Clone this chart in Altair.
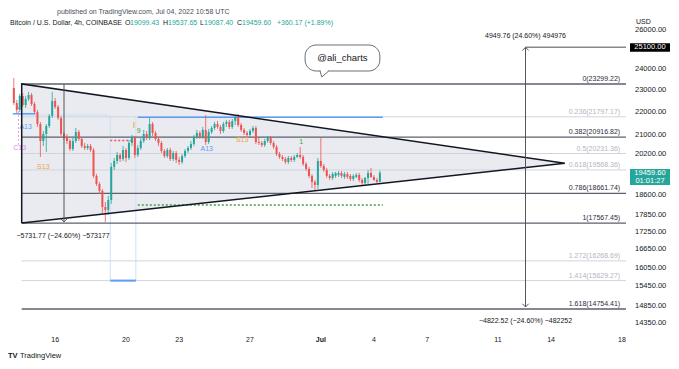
import altair as alt
import pandas as pd

FONT = "Liberation Sans"
GREEN = "#26a69a"
RED = "#ef5350"
DARK = "#131722"
BLUE = "#5b9cf6"
ORANGE = "#f2a33a"

# ---------------- candle data (BTC/USD 4h, Coinbase) ----------------
opens = [23112, 22418, 22102, 22739, 22327, 22602, 22785, 22372, 22012, 21481,
         20754, 21050, 21395, 21834, 22510, 22237, 21746, 21050, 20923, 20754,
         20420, 20754, 21137, 20839, 20544, 20461, 20544, 20378, 19330, 19018,
         18751, 18151, 18041, 18411, 19687, 19928, 20172, 20009, 20378, 20050,
         20669, 20881, 20172, 20461, 20754, 21050, 20881, 21481, 21094, 20839,
         20669, 20337, 20131, 20378, 20009, 20254, 19969, 19887, 20131, 20337,
         20461, 20627, 20923, 21094, 20923, 21223, 20712, 21137, 21309, 21481,
         21352, 21180, 21481, 21570, 21352, 21614, 21790, 21438, 21223, 21094,
         21008, 21180, 21309, 20712, 20669, 20586, 20754, 20881, 20669, 20503,
         20212, 20090, 20009, 19887, 20050, 19969, 20090, 20172, 20090, 19806,
         19607, 19330, 19096, 18980, 19928, 19726, 19567, 19330, 19252, 19330,
         19369, 19448, 19291, 19408, 19330, 19213, 19291, 19369, 19174, 19057,
         19252, 19448, 19291, 19174, 19099.43]
closes = [22418, 22102, 22739, 22327, 22602, 22785, 22372, 22012, 21481, 20754,
          21050, 21395, 21834, 22510, 22237, 21746, 21050, 20923, 20754, 20420,
          20754, 21137, 20839, 20544, 20461, 20544, 20378, 19330, 19018, 18751,
          18151, 18041, 18411, 19687, 19928, 20172, 20009, 20378, 20050, 20669,
          20923, 20172, 20461, 20754, 21050, 20881, 21481, 21094, 20839, 20669,
          20337, 20131, 20378, 20009, 20254, 19969, 19887, 20131, 20337, 20461,
          20627, 20923, 21094, 20923, 21223, 20712, 21137, 21309, 21481, 21352,
          21180, 21481, 21570, 21352, 21614, 21790, 21438, 21223, 21094, 21008,
          21180, 21309, 20712, 20669, 20586, 20754, 20881, 20669, 20503, 20212,
          20090, 20009, 19887, 20050, 19969, 20090, 20172, 20090, 19806, 19607,
          19330, 19096, 18980, 19928, 19726, 19567, 19330, 19252, 19408, 19448,
          19448, 19330, 19408, 19291, 19213, 19330, 19369, 19174, 19057, 19252,
          19448, 19291, 19174, 19096, 19459.60]
highs = [23585, 22556, 22831, 22878, 22739, 22925, 22878, 22464, 22102, 21570,
         21180, 21481, 21922, 22925, 22648, 22327, 21834, 21137, 21050, 20839,
         20923, 21309, 21223, 20923, 20669, 20627, 20627, 20461, 19408, 19096,
         18827, 18336, 18561, 19847, 20050, 20295, 20254, 20544, 20461, 20796,
         21008, 20966, 20586, 20881, 21223, 21180, 21746, 21570, 21180, 20923,
         20754, 20420, 20461, 20461, 20337, 20337, 20090, 20212, 20420, 20544,
         20754, 21008, 21223, 21180, 21352, 21878, 21266, 21395, 21570, 21614,
         21438, 21570, 21658, 21658, 21702, 21878, 21922, 21525, 21309, 21180,
         21266, 21395, 21395, 20881, 20754, 20839, 20966, 20966, 20754, 20586,
         20295, 20172, 20090, 20131, 20131, 20172, 20254, 20503, 20172, 19887,
         19687, 19408, 19174, 20050, 20881, 19806, 19647, 19408, 19488, 19488,
         19527, 19527, 19488, 19488, 19408, 19408, 19448, 19448, 19252, 19291,
         19567, 19647, 19369, 19252, 19537.65]
lows = [22327, 21967, 22012, 22237, 22192, 22510, 22282, 21922, 21352, 20090,
        20544, 20295, 21309, 21746, 22147, 21658, 20966, 20796, 20627, 20337,
        20337, 20669, 20754, 20461, 20378, 20378, 20295, 19252, 18942, 18636,
        17931, 17607, 17858, 18261, 19567, 19806, 19887, 19928, 19887, 19969,
        20544, 20050, 20090, 20378, 20669, 20796, 20796, 20966, 20754, 20544,
        20254, 20050, 20050, 19928, 19928, 19847, 19766, 19806, 20050, 20254,
        20378, 20544, 20839, 20839, 20839, 20586, 20627, 21050, 21223, 21266,
        21050, 21094, 21352, 21266, 21266, 21438, 21352, 21137, 21008, 20923,
        20923, 21094, 20627, 20586, 20503, 20503, 20669, 20586, 20420, 20131,
        20009, 19928, 19806, 19806, 19887, 19887, 20050, 20009, 19726, 19527,
        19252, 18865, 18789, 18827, 19647, 19488, 19252, 19174, 19174, 19252,
        19291, 19252, 19213, 19213, 19135, 19135, 19252, 19096, 18980, 18980,
        19018, 19252, 19135, 19057, 19087.40]

# time in "June day" units: Jun 13 16:00 UTC, one bar every 4 hours
start_day = 13 + 16 / 24
days = [start_day + i * 4 / 24 for i in range(len(opens))]

# ---------------- axes ----------------
x_tick_days = [16, 20, 23, 27, 31, 34, 37, 41, 44, 48]
x_tick_labels = ["16", "20", "23", "27", "Jul", "4", "7", "11", "14", "18"]
y_ticks = [26000, 24000, 23000, 22000, 21000, 20200, 18600, 17850, 17250,
           16650, 16050, 15450, 14850, 14350]

# ---------------- fibonacci retracement ----------------
fib_ratio = ["0", "0.236", "0.382", "0.5", "0.618", "0.786", "1", "1.272", "1.414", "1.618"]
fib_price = [23299.22, 21797.17, 20916.82, 20231.36, 19568.36, 18661.74, 17567.45,
             16268.69, 15629.27, 14754.41]
fib_strong = [True, False, True, False, False, True, True, False, False, True]

# ---------------- drawings ----------------
tri_t = [14.111, 14.111, 44.778, 14.111]
tri_p = [17567.45, 23299.22, 19835.0, 17567.45]

resist_price = 21780      # blue line
support_price = 18225     # green dotted
red_dot_price = 20769
blue_low_price = 15630

td_text = ["A13", "C13", "S13", "9", "A13", "S13", "1"]
td_day = [14.333, 14.0, 15.333, 20.722, 24.556, 26.556, 29.889]
td_price = [21352, 20461, 19687, 21180, 20420, 20796, 20712]
td_color = [BLUE, "#d68be6", ORANGE, "#43a047", BLUE, ORANGE, "#43a047"]

X_DOMAIN = [13.62, 48.23]
Y_DOMAIN = [14081, 26104]
xs = alt.Scale(domain=X_DOMAIN, nice=False, zero=False)
ys = alt.Scale(type="log", domain=Y_DOMAIN, nice=False)


def X(f):
    return alt.X(f, scale=xs, axis=None)


def Y(f):
    return alt.Y(f, scale=ys, axis=None)


def hseg(t0, t1, p, color, width=1.0, dash=None, opacity=1.0):
    df = pd.DataFrame({"t0": [t0], "t1": [t1], "p": [p]})
    kw = dict(color=color, strokeWidth=width, opacity=opacity)
    if dash:
        kw["strokeDash"] = dash
    return alt.Chart(df).mark_rule(**kw).encode(x=X("t0:Q"), x2="t1:Q", y=Y("p:Q"))


def vseg(t, p0, p1, color, width=1.0, dash=None):
    df = pd.DataFrame({"t": [t], "p0": [p0], "p1": [p1]})
    kw = dict(color=color, strokeWidth=width)
    if dash:
        kw["strokeDash"] = dash
    return alt.Chart(df).mark_rule(**kw).encode(x=X("t:Q"), y=Y("p0:Q"), y2="p1:Q")


def dtext(label, t, p, color, size=7, align="center", dy=0, weight="normal"):
    df = pd.DataFrame({"t": [t], "p": [p], "label": [label]})
    return alt.Chart(df).mark_text(align=align, baseline="middle", fontSize=size, color=color,
                                   font=FONT, dy=dy, fontWeight=weight).encode(
        x=X("t:Q"), y=Y("p:Q"), text="label:N")


def ptext(label, px, py, color=DARK, size=7, align="left", weight="normal"):
    df = pd.DataFrame({"label": [label]})
    return alt.Chart(df).mark_text(align=align, baseline="middle", fontSize=size, color=color,
                                   font=FONT, fontWeight=weight).encode(
        x=alt.value(px), y=alt.value(py), text="label:N")


def arrow(t, p, up):
    df = pd.DataFrame({"t": [t], "p": [p]})
    shape = "M-1,1L0,0L1,1" if up else "M-1,-1L0,0L1,-1"
    return alt.Chart(df).mark_point(shape=shape, size=40, filled=False, color="#555",
                                    strokeWidth=1, opacity=1).encode(x=X("t:Q"), y=Y("p:Q"))


layers = []

# triangle fill
tri_fill = pd.DataFrame({"t": [14.111, 44.778], "top": [23299.22, 19835.0], "bot": [17567.45, 19835.0]})
layers.append(alt.Chart(tri_fill).mark_area(color="#e8eaef", opacity=0.95).encode(
    x=X("t:Q"), y=Y("top:Q"), y2="bot:Q"))

# faint light-blue helper lines
layers.append(hseg(14.167, 19.0, 21878, "#cfe0f5", 1))
layers.append(vseg(19.111, 21878, blue_low_price, "#cfe0f5", 1))
layers.append(vseg(20.556, 21780, blue_low_price, "#cfe0f5", 1))

# fibonacci lines + labels
fib_df = pd.DataFrame({"ratio": fib_ratio, "p": fib_price, "strong": fib_strong})
fib_df["label"] = [f"{r}({p:.2f})" for r, p in zip(fib_ratio, fib_price)]
fib_df["t0"] = 14.111
fib_df["t1"] = X_DOMAIN[1]
fib_df["tl"] = 47.9
for strong, lc, tc, w in [(True, "#5d606b", "#2a2e39", 1.3), (False, "#d1d4dc", "#b2b5be", 1.0)]:
    sub = fib_df[fib_df["strong"] == strong]
    layers.append(alt.Chart(sub).mark_rule(color=lc, strokeWidth=w).encode(
        x=X("t0:Q"), x2="t1:Q", y=Y("p:Q")))
    layers.append(alt.Chart(sub).mark_text(align="right", baseline="middle", dy=-5, fontSize=7,
                                           font=FONT, color=tc).encode(
        x=X("tl:Q"), y=Y("p:Q"), text="label:N"))

# horizontal study lines
layers.append(hseg(20.667, 34.5, resist_price, BLUE, 1.5))
layers.append(hseg(13.611, 14.889, 21930, BLUE, 1.5))
layers.append(hseg(20.667, 34.5, support_price, "#43a047", 1.5, [2, 2]))
layers.append(hseg(19.111, 20.556, red_dot_price, RED, 1.5, [2, 2]))
layers.append(hseg(19.111, 20.556, blue_low_price, BLUE, 2))
layers.append(vseg(13.93, 22237, 20586, "#e0a3eb", 1, [2, 2]))
layers.append(vseg(20.444, 21570, 21309, ORANGE, 1))

# TD sequential labels (under candles)
for txt, t, p, c in zip(td_text, td_day, td_price, td_color):
    layers.append(dtext(txt, t, p, c, size=7))

# candles
cdf = pd.DataFrame({"t": days, "open": opens, "high": highs, "low": lows, "close": closes})
cdf["dir"] = ["up" if c >= o else "down" for o, c in zip(opens, closes)]
col = alt.Color("dir:N", scale=alt.Scale(domain=["up", "down"], range=[GREEN, RED]), legend=None)

wicks = alt.Chart(cdf).mark_rule(strokeWidth=0.8).encode(
    x=X("t:Q"), y=Y("low:Q"), y2="high:Q", color=col)
bodies = alt.Chart(cdf).mark_bar(size=2).encode(
    x=X("t:Q"), y=Y("open:Q"), y2="close:Q", color=col)
layers += [wicks, bodies]

# triangle outline
tri_df = pd.DataFrame({"t": tri_t, "p": tri_p, "o": list(range(len(tri_t)))})
layers.append(alt.Chart(tri_df).mark_line(color=DARK, strokeWidth=1.5).encode(
    x=X("t:Q"), y=Y("p:Q"), order="o:O"))

# price range measure (left)
layers.append(vseg(16.5, 23299.22, 17607, "#555", 1))
layers.append(arrow(16.5, 17607, False))
layers.append(dtext("\u22125731.77 (\u221224.60%) \u2212573177", 16.444, 17113, DARK, size=7))

# price range measure (right)
layers.append(vseg(42.556, 25100, 14816, "#555", 1))
layers.append(hseg(42.556, X_DOMAIN[1], 25100, "#888", 1.5))
layers.append(arrow(42.556, 25100, True))
layers.append(arrow(42.556, 14816, False))
layers.append(dtext("4949.76 (24.60%) 494976", 42.556, 25684, DARK, size=7))
layers.append(dtext("\u22124822.52 (\u221224.60%) \u2212482252", 42.556, 14399, DARK, size=7))

# callout bubble
bub = pd.DataFrame({"t0": [30.111], "t1": [34.333], "p0": [25219], "p1": [23922]})
layers.append(alt.Chart(bub).mark_rect(fill="white", stroke="#6b6e78", strokeWidth=1,
                                       cornerRadius=11).encode(
    x=X("t0:Q"), x2="t1:Q", y=Y("p0:Q"), y2="p1:Q"))
layers.append(hseg(31.0, 31.4, 23922, "white", 2))
tail = pd.DataFrame({"t": [30.95, 31.06, 31.44], "p": [23922, 23633, 23922], "o": [0, 1, 2]})
layers.append(alt.Chart(tail).mark_line(color="#6b6e78", strokeWidth=1).encode(
    x=X("t:Q"), y=Y("p:Q"), order="o:O"))
layers.append(dtext("@ali_charts", 32.222, 24562, DARK, size=9.5))

# price axis labels (right), placed with the y scale
ytick_df = pd.DataFrame({"v": y_ticks, "label": [f"{v:.2f}" for v in y_ticks]})
layers.append(alt.Chart(ytick_df).mark_text(align="left", baseline="middle", fontSize=7.5,
                                            font=FONT, color=DARK).encode(
    x=alt.value(627), y=Y("v:Q"), text="label:N"))

# time axis labels (bottom), placed with the x scale
xtick_df = pd.DataFrame({"d": x_tick_days, "label": x_tick_labels})
xtick_df["bold"] = [l == "Jul" for l in x_tick_labels]
for b in [False, True]:
    layers.append(alt.Chart(xtick_df[xtick_df["bold"] == b]).mark_text(
        align="center", baseline="middle", fontSize=7, font=FONT, color=DARK,
        fontWeight="bold" if b else "normal").encode(
        x=X("d:Q"), y=alt.value(312), text="label:N"))

# price scale boxes
box1 = pd.DataFrame({"p0": [25310], "p1": [24880], "p": [25100], "label": ["25100.00"]})
layers.append(alt.Chart(box1).mark_rect(color="black").encode(
    x=alt.value(622), x2=alt.value(662), y=Y("p0:Q"), y2="p1:Q"))
layers.append(alt.Chart(box1).mark_text(color="white", fontSize=7.5, font=FONT, align="center",
                                        baseline="middle").encode(
    x=alt.value(642), y=Y("p:Q"), text="label:N"))
box2 = pd.DataFrame({"p0": [19607], "p1": [18980], "pa": [19459.6], "pb": [19135],
                     "la": ["19459.60"], "lb": ["01:01:27"]})
layers.append(alt.Chart(box2).mark_rect(color=GREEN).encode(
    x=alt.value(622), x2=alt.value(662), y=Y("p0:Q"), y2="p1:Q"))
layers.append(alt.Chart(box2).mark_text(color="white", fontSize=7.5, font=FONT, align="center",
                                        baseline="middle").encode(
    x=alt.value(642), y=Y("pa:Q"), text="la:N"))
layers.append(alt.Chart(box2).mark_text(color="white", fontSize=7.5, font=FONT, align="center",
                                        baseline="middle").encode(
    x=alt.value(642), y=Y("pb:Q"), text="lb:N"))

# header / footer texts
layers.append(ptext("published on TradingView.com, Jul 04, 2022 10:58 UTC", 49, -16, "#4a4e59", 7))
title_parts = ["Bitcoin / U.S. Dollar, 4h, COINBASE", "O", "19099.43", "H", "19537.65",
               "L", "19087.40", "C", "19459.60", "+360.17 (+1.89%)"]
title_colors = [DARK, DARK, GREEN, DARK, GREEN, DARK, GREEN, DARK, GREEN, GREEN]
title_x = [2, 117, 122, 155, 160, 192, 196, 229, 234, 269]
for txt, c, px in zip(title_parts, title_colors, title_x):
    layers.append(ptext(txt, px, -5, c, 7))
layers.append(ptext("USD", 628, -6, DARK, 7))
layers.append(ptext("TV", 0, 328, DARK, 7.5, weight="bold"))
layers.append(ptext("TradingView", 12, 328, DARK, 7.5))

chart = alt.layer(*layers).properties(
    width=623, height=304,
    padding={"left": 0, "top": 20, "right": 40, "bottom": 29},
    autosize=alt.AutoSizeParams(type="none"),
    background="white",
).configure_view(strokeWidth=0)

chart.save("out.html", embed_options={"renderer": "svg", "actions": False})
